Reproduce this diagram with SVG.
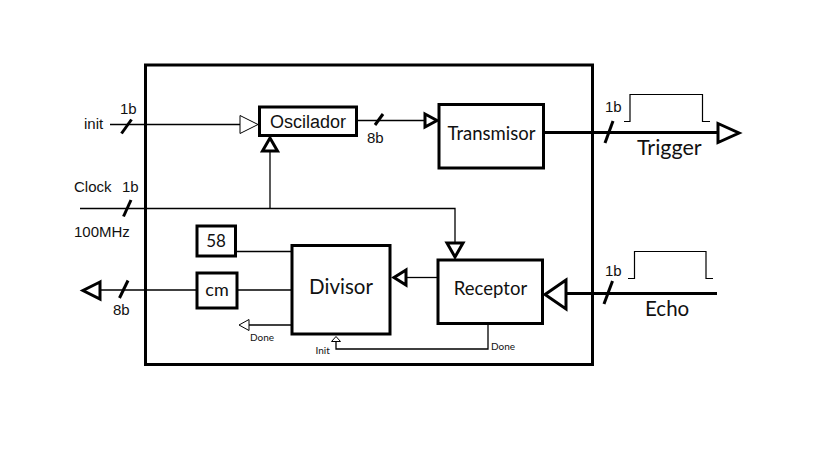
<svg xmlns="http://www.w3.org/2000/svg" width="819" height="460" viewBox="0 0 819 460">
  <style>
    .frame { fill: none; stroke: #000; stroke-width: 3; }
    .box { fill: #fff; stroke: #000; stroke-width: 3; }
    .wire { fill: none; stroke: #000; stroke-width: 1.3; }
    .bus { fill: none; stroke: #000; stroke-width: 3.2; }
    .slash { stroke: #000; stroke-width: 3; }
    .pulse { fill: none; stroke: #000; stroke-width: 1.2; }
    .tri-thin { fill: #fff; stroke: #000; stroke-width: 1; stroke-linejoin: miter; }
    .tri-bold { fill: #fff; stroke: #000; stroke-width: 3; stroke-linejoin: miter; }
    .lbl { font-family: "Liberation Sans", Arial, sans-serif; font-size: 15px; fill: #111; }
    .name { font-family: Lato, "Open Sans", sans-serif; fill: #111; }
    .tiny { font-family: Lato, "Open Sans", sans-serif; font-size: 10px; fill: #111; }
  </style>

  <rect class="frame" x="145.5" y="65" width="447" height="299.5"/>

  <g id="connectors">
    <!-- init -> Oscilador -->
    <line class="wire" x1="110" y1="124.5" x2="240" y2="124.5"/>
    <polygon class="tri-thin" points="240,115.5 258,124.5 240,133.5"/>
    <line class="slash" x1="121.5" y1="133.5" x2="131.5" y2="119.5"/>

    <!-- clock distribution -->
    <polyline class="wire" points="80,208.5 455,208.5 455,243"/>
    <line class="wire" x1="270" y1="208.5" x2="270" y2="151"/>
    <polygon class="tri-bold" points="262.5,151 270,138 277.5,151"/>
    <polygon class="tri-bold" points="447,243 463,243 455,257"/>
    <line class="slash" x1="123.5" y1="216.5" x2="131" y2="200"/>

    <!-- Oscilador -> Transmisor -->
    <line class="wire" x1="356" y1="120.5" x2="425" y2="120.5"/>
    <polygon class="tri-bold" points="425,114 437,120.5 425,127"/>
    <line class="slash" x1="375" y1="125" x2="383" y2="114"/>

    <!-- Trigger output -->
    <line class="bus" x1="544" y1="132.5" x2="718" y2="132.5"/>
    <polygon class="tri-bold" points="718,123.5 739,133 718,142.5"/>
    <line class="slash" x1="605" y1="143" x2="613" y2="121"/>
    <polyline class="pulse" points="624,121.5 630,121.5 630,94.5 702.5,94.5 702.5,121.5 710,121.5"/>

    <!-- Echo input -->
    <line class="bus" x1="566" y1="293.5" x2="717" y2="293.5"/>
    <polygon class="tri-bold" points="566,280 545,294.5 566,309"/>
    <line class="slash" x1="604" y1="304" x2="612.5" y2="281"/>
    <polyline class="pulse" points="628,278.5 634.5,278.5 634.5,251.5 706,251.5 706,278.5 713,278.5"/>

    <!-- Receptor -> Divisor -->
    <line class="wire" x1="407" y1="277.5" x2="437" y2="277.5"/>
    <polygon class="tri-bold" points="406,270 394,277.5 406,285"/>

    <!-- Receptor Done -> Divisor Init -->
    <polyline class="wire" points="488,324 488,349 336,349 336,341.5"/>
    <polygon class="tri-thin" points="331.5,341.5 336,336.5 340.5,341.5"/>

    <!-- 58 and cm -> Divisor -->
    <line class="wire" x1="236" y1="251.5" x2="292" y2="251.5"/>
    <line class="wire" x1="238" y1="290" x2="292" y2="290"/>

    <!-- cm -> output -->
    <line class="wire" x1="100" y1="290" x2="197" y2="290"/>
    <polygon class="tri-bold" points="100,282 83,290.5 100,299"/>
    <line class="slash" x1="119.5" y1="298" x2="128" y2="280.5"/>

    <!-- Divisor Done -->
    <line class="wire" x1="249" y1="325" x2="292" y2="325"/>
    <polygon class="tri-thin" points="249,319.5 239,325 249,330.5"/>
  </g>

  <g id="oscilador">
    <rect class="box" x="259.5" y="107" width="97" height="28.5"/>
    <text class="lbl" x="308" y="127.5" text-anchor="middle" style="font-size:18px">Oscilador</text>
  </g>

  <g id="transmisor">
    <rect class="box" x="439" y="104.5" width="104.5" height="63.5"/>
    <text class="name" x="491.5" y="140" text-anchor="middle" font-size="18.5">Transmisor</text>
  </g>

  <g id="receptor">
    <rect class="box" x="438" y="260" width="104.5" height="63.5"/>
    <text class="name" x="490.5" y="295" text-anchor="middle" font-size="18.5">Receptor</text>
  </g>

  <g id="divisor">
    <rect class="box" x="292" y="245.5" width="98" height="88.5"/>
    <text class="name" x="341" y="294" text-anchor="middle" font-size="20.5">Divisor</text>
  </g>

  <g id="const58">
    <rect class="box" x="197" y="226" width="38.5" height="30"/>
    <text class="name" x="216" y="247" text-anchor="middle" font-size="17">58</text>
  </g>

  <g id="cm">
    <rect class="box" x="197" y="273" width="40" height="35"/>
    <text class="name" x="217" y="295.5" text-anchor="middle" font-size="18">cm</text>
  </g>

  <g id="labels">
    <text class="lbl" x="84" y="129">init</text>
    <text class="lbl" x="120" y="114">1b</text>
    <text class="lbl" x="74" y="192">Clock</text>
    <text class="lbl" x="122" y="192">1b</text>
    <text class="lbl" x="74" y="237">100MHz</text>
    <text class="lbl" x="367" y="143">8b</text>
    <text class="lbl" x="113" y="315">8b</text>
    <text class="lbl" x="605" y="112">1b</text>
    <text class="lbl" x="605" y="276">1b</text>
    <text class="name" x="637" y="155" font-size="21.5">Trigger</text>
    <text class="name" x="645" y="316" font-size="20.5">Echo</text>
    <text class="tiny" x="250" y="340.5">Done</text>
    <text class="tiny" x="315.5" y="354">Init</text>
    <text class="tiny" x="491" y="349.5">Done</text>
  </g>
</svg>
